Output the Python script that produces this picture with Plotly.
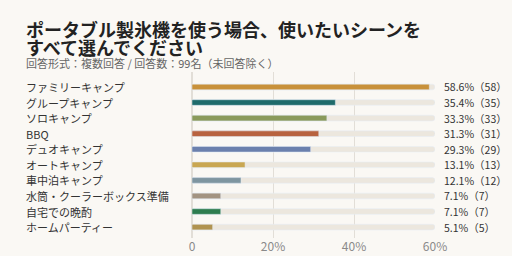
import plotly.graph_objects as go

categories = ["ファミリーキャンプ", "グループキャンプ", "ソロキャンプ", "BBQ", "デュオキャンプ",
              "オートキャンプ", "車中泊キャンプ", "水筒・クーラーボックス準備", "自宅での晩酌", "ホームパーティー"]
percents = [58.6, 35.4, 33.3, 31.3, 29.3, 13.1, 12.1, 7.1, 7.1, 5.1]
counts = [58, 35, 33, 31, 29, 13, 12, 7, 7, 5]
colors = ["#C8913A", "#1F6B6B", "#8A9A5B", "#B8623F", "#6B80AD",
          "#C9A752", "#7E95A0", "#A39482", "#2E7D4F", "#B09350"]
track_max = 60
tick_vals = [0, 20, 40, 60]
tick_text = ["0", "20%", "40%", "60%"]
title_lines = ["ポータブル製氷機を使う場合、使いたいシーンを", "すべて選んでください"]
subtitle = "回答形式：複数回答 / 回答数：99名（未回答除く）"

FONT = "Noto Sans CJK JP"
BG = "#FAF8F4"
W, H = 512, 256
L, R, T, B = 192, 77, 72, 18
PH = H - T - B
PW = W - L - R


def px_x(px):
    return (px - L) / PW


def px_y(py):
    return (H - B - py) / PH


fig = go.Figure()
fig.add_trace(go.Bar(y=categories, x=[track_max] * len(categories), orientation="h",
                     marker=dict(color="#ECE7DE", cornerradius=3), width=0.36,
                     hoverinfo="skip", showlegend=False))
fig.add_trace(go.Bar(y=categories, x=percents, orientation="h",
                     marker=dict(color=colors, cornerradius=3), width=0.36,
                     showlegend=False))

for c, p, n in zip(categories, percents, counts):
    fig.add_annotation(x=track_max, y=c, xref="x", yref="y", xanchor="left", xshift=7,
                       text=f"{p:.1f}%（{n}）", showarrow=False,
                       font=dict(family=FONT, size=10.5, color="#333"))
    fig.add_annotation(x=px_x(26), y=c, xref="paper", yref="y", xanchor="left", xshift=-2,
                       text=c, showarrow=False,
                       font=dict(family=FONT, size=11, color="#333"))

for i, line in enumerate(title_lines):
    fig.add_annotation(x=px_x(26), y=px_y(29 + 18 * i), xref="paper", yref="paper",
                       xanchor="left", yanchor="middle", xshift=-2,
                       text=f"<b>{line}</b>", showarrow=False,
                       font=dict(family=FONT, size=18, color="#222222"))
fig.add_annotation(x=px_x(26), y=px_y(63), xref="paper", yref="paper", xanchor="left", yanchor="middle",
                   xshift=-2, text=subtitle, showarrow=False,
                   font=dict(family=FONT, size=11, color="#666666"))

fig.update_layout(
    width=W, height=H, barmode="overlay",
    paper_bgcolor=BG, plot_bgcolor=BG,
    margin=dict(l=L, r=R, t=T, b=B),
    xaxis=dict(range=[0, 60], tickvals=tick_vals, ticktext=tick_text, showgrid=True,
               gridcolor="#E2DED7", gridwidth=1, zeroline=True, zerolinecolor="#E2DED7",
               tickfont=dict(family=FONT, size=12, color="#8A8A8A"), automargin=False),
    yaxis=dict(type="category", range=[9.7, -0.96], showticklabels=False, showgrid=False,
               zeroline=False, automargin=False),
    font=dict(family=FONT),
)
fig.write_html("out.html")
